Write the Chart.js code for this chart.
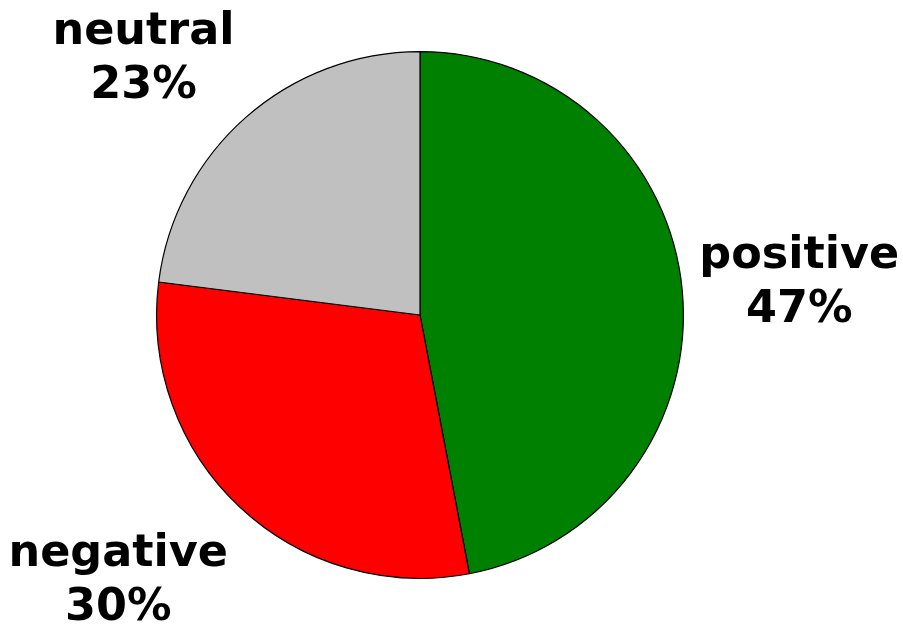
<!DOCTYPE html>
<html>
<head>
<meta charset="utf-8">
<script src="https://cdn.jsdelivr.net/npm/chart.js@4"></script>
<style>
html,body{margin:0;padding:0;background:#fff;}
#wrap{width:903px;height:625px;}
</style>
</head>
<body>
<div id="wrap"><canvas id="c" width="903" height="625"></canvas></div>
<script>
const categories = ["positive", "negative", "neutral"];
const values = [47, 30, 23];
const sliceColors = ["#008000", "#ff0000", "#c0c0c0"];

const labelPlugin = {
  id: 'outerLabels',
  afterDraw(chart) {
    const ctx = chart.ctx;
    const meta = chart.getDatasetMeta(0);
    const total = values.reduce((a, b) => a + b, 0);
    ctx.save();
    ctx.font = 'bold 44.5px "DejaVu Sans"';
    ctx.fillStyle = '#000';
    ctx.textAlign = 'center';
    ctx.textBaseline = 'alphabetic';
    meta.data.forEach((arc, i) => {
      const p = arc.getProps(['x', 'y', 'startAngle', 'endAngle', 'outerRadius'], true);
      const mid = (p.startAngle + p.endAngle) / 2;
      const d = p.outerRadius * 1.065;
      const px = p.x + Math.cos(mid) * d;
      const py = p.y + Math.sin(mid) * d;
      const lines = [categories[i], Math.round(values[i] / total * 100) + '%'];
      const w = Math.max(...lines.map(l => ctx.measureText(l).width));
      const cx = Math.cos(mid) > 0 ? px + w / 2 : px - w / 2;
      const s = Math.sin(mid);
      let b1;
      if (s > 0.3) b1 = py + 47;
      else if (s < -0.3) b1 = py - 7 - 54;
      else b1 = py - 21;
      lines.forEach((l, k) => ctx.fillText(l, cx, b1 + k * 54));
    });
    ctx.restore();
  }
};

new Chart(document.getElementById('c'), {
  type: 'pie',
  data: {
    labels: categories,
    datasets: [{
      data: values,
      backgroundColor: sliceColors,
      borderColor: '#000',
      borderWidth: 1.2
    }]
  },
  options: {
    responsive: false,
    animation: false,
    devicePixelRatio: 1,
    layout: { padding: { left: 156, right: 219, top: 51, bottom: 46 } },
    plugins: { legend: { display: false }, tooltip: { enabled: false } }
  },
  plugins: [labelPlugin]
});
</script>
</body>
</html>
